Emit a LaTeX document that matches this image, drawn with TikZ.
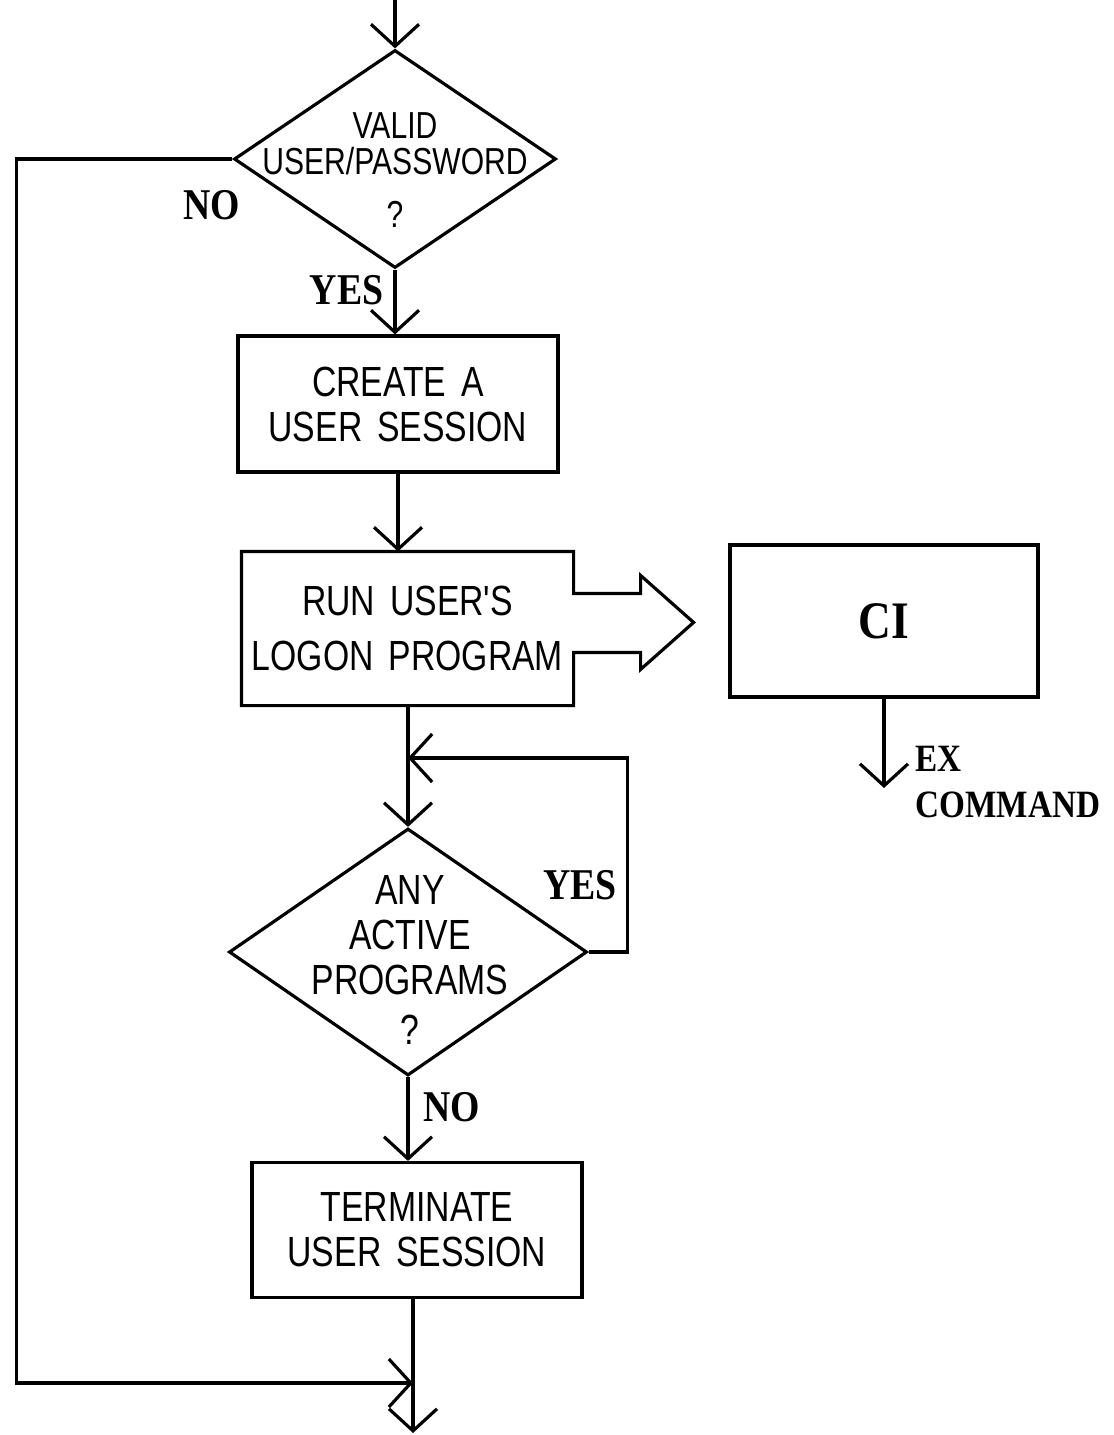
\documentclass[tikz,border=0pt]{standalone}
\usepackage{fontspec}
\usetikzlibrary{arrows.meta,shapes.geometric}
\newfontfamily\flowsans[FakeStretch=0.8,WordSpace=1.6]{Liberation Sans}
\newfontfamily\flowserif[FakeStretch=0.86]{Liberation Serif}
\tikzset{
  box/.style={draw, rectangle, inner sep=0pt, align=center,
    font=\flowsans\fontsize{12}{12.8}\selectfont},
  decide/.style={draw, diamond, inner sep=0pt},
  txt/.style={inner sep=0pt, align=center,
    font=\flowsans\fontsize{12}{12.8}\selectfont},
  lab/.style={inner sep=0pt, font=\flowserif\bfseries\fontsize{12.5}{13}\selectfont},
}
\begin{document}
\begin{tikzpicture}[>={Straight Barb[length=2.2mm,width=4.8mm]}, line width=0.9pt]
        \useasboundingbox (0,0) rectangle (11.13,-14.35);
        % decision: user and password
        \node [decide, minimum width=3.22cm, minimum height=2.18cm] (valid) at (3.95,-1.59) {};
        \node [txt, font=\flowsans\fontsize{10.7}{10.5}\selectfont] (validtxt) at (3.95,-1.70) {VALID\\USER/PASSWORD\\[0.16cm]?};
        % session boxes
        \node [box, minimum width=3.20cm, minimum height=1.36cm] (create) at (3.98,-4.04) {CREATE A\\USER SESSION};
        \node [txt, minimum width=3.29cm, minimum height=1.51cm, font=\flowsans\fontsize{12}{15.6}\selectfont] (run) at (4.075,-6.285) {RUN USER'S\\LOGON PROGRAM};
        \draw (run.north west) -- (run.north east) -- ++(0,-0.42) -- ++(0.67,0) -- ++(0,0.18)
            -- ++(0.53,-0.47) -- ++(-0.53,-0.47) -- ++(0,0.17) -- ++(-0.67,0)
            -- (run.south east) -- (run.south west) -- cycle;
        \node [box, minimum width=3.08cm, minimum height=1.52cm, font=\flowserif\bfseries\fontsize{15}{18}\selectfont] (ci) at (8.84,-6.21) {CI};
        % decision: active programs
        \node [decide, minimum width=3.58cm, minimum height=2.47cm] (active) at (4.08,-9.52) {};
        \node [txt] (activetxt) at (4.10,-9.60) {ANY\\ACTIVE\\PROGRAMS\\[0.05cm]?};
        \node [box, minimum width=3.30cm, minimum height=1.35cm] (term) at (4.17,-12.30) {TERMINATE\\USER SESSION};

        \coordinate (in) at (3.95,0);
        \coordinate (back) at (4.08,-7.58);
        \coordinate (join) at (4.13,-13.83);
        \coordinate (out) at (4.13,-14.33);
        \coordinate (ex) at (8.84,-7.88);

        \draw [->] (in) -- (valid.north);
        \draw [->] (valid.south) -- (valid.south |- create.north);
        \draw [->] (create.south) -- (create.south |- run.north);
        \draw (run.south -| back) -- (back);
        \draw [->] (back) -- (active.north);
        \draw [->] (active.east) -- ++(0.39,0) |- (back);
        \draw [->] (active.south) -- (active.south |- term.north);
        \draw (term.south -| out) -- (join);
        \draw [->] (join) -- (out);
        \draw [->] (valid.west) -- ++(-2.16,0) |- (join);
        \draw [->] (ci.south) -- (ex);

        \node [lab] (no1) at (2.12,-2.05) {NO};
        \node [lab, anchor=east] (yes1) at (3.85,-2.90) {YES};
        \node [lab] (yes2) at (5.80,-8.85) {YES};
        \node [lab, anchor=west] (no2) at (4.22,-11.07) {NO};
        \node [lab, anchor=north west, align=left, font=\flowserif\bfseries\fontsize{11}{13}\selectfont] (excmd) at (9.14,-7.45) {EX\\COMMAND};
\end{tikzpicture}
\end{document}
